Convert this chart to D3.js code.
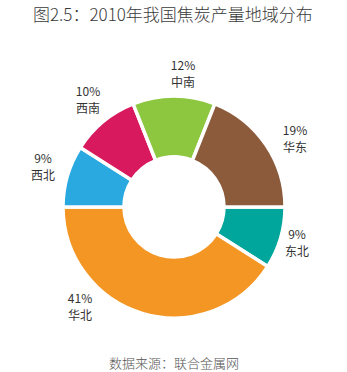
<!DOCTYPE html>
<html>
<head>
<meta charset="utf-8">
<script src="https://cdn.jsdelivr.net/npm/d3@7"></script>
<style>
  html, body { margin: 0; padding: 0; background: #fff; }
  svg { display: block; }
  text { font-family: "Noto Sans CJK SC", "Noto Sans", sans-serif; fill: #333; }
</style>
</head>
<body>
<svg id="chart" width="347" height="372"></svg>
<script>
// Regional shares of coke output, 2010 (percent), clockwise from 3 o'clock
const regions = ["东北", "华北", "西北", "西南", "中南", "华东"];
const shares = [9, 41, 9, 10, 12, 19];
const colors = ["#00a59c", "#f49623", "#2aa9e0", "#d8195d", "#8dc63f", "#8b5b3b"];
// Label anchor positions (centre of the two-line label)
const labelPos = [[297, 243], [80, 307], [43, 167], [88, 100], [183, 74], [295, 139]];

const title = "图2.5：2010年我国焦炭产量地域分布";
const source = "数据来源：联合金属网";

const svg = d3.select("#chart");
const cx = 174, cy = 207, rOuter = 111, rInner = 50;

svg.append("text")
  .attr("x", 33).attr("y", 21)
  .attr("font-size", 17)
  .attr("font-weight", 300)
  .style("fill", "#3a3a3a")
  .text(title);

const pie = d3.pie()
  .sort(null)
  .value(d => d)
  .startAngle(Math.PI / 2)
  .endAngle(Math.PI / 2 + 2 * Math.PI);

const arc = d3.arc().innerRadius(rInner).outerRadius(rOuter);

const g = svg.append("g").attr("transform", `translate(${cx},${cy})`);
g.selectAll("path")
  .data(pie(shares))
  .join("path")
  .attr("d", arc)
  .attr("fill", (d, i) => colors[i])
  .attr("stroke", "#fff")
  .attr("stroke-width", 3.5)
  .attr("stroke-linejoin", "miter");

const labels = svg.append("g");
regions.forEach((name, i) => {
  const [x, y] = labelPos[i];
  const t = labels.append("text")
    .attr("text-anchor", "middle")
    .attr("font-size", 12);
  t.append("tspan").attr("x", x).attr("y", y - 4).text(shares[i] + "%");
  t.append("tspan").attr("x", x).attr("y", y + 13).text(name);
});

svg.append("text")
  .attr("x", 174).attr("y", 368)
  .attr("text-anchor", "middle")
  .attr("font-size", 13)
  .attr("font-weight", 300)
  .style("fill", "#555")
  .text(source);
</script>
</body>
</html>
